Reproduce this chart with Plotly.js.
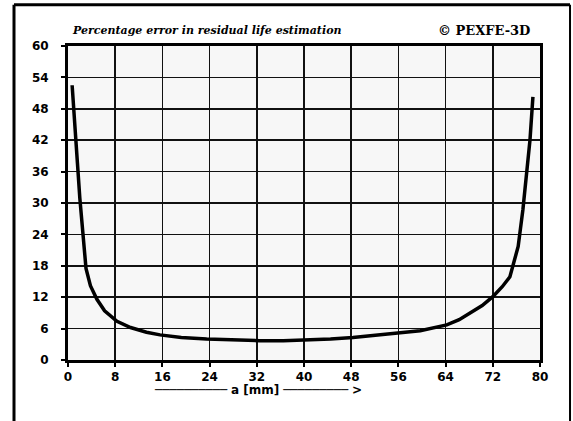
<!DOCTYPE html>
<html>
<head>
<meta charset="utf-8">
<script src="https://cdn.plot.ly/plotly-3.0.1.min.js"></script>
<style>html,body{margin:0;padding:0;background:#fff;}#chart{width:573px;height:421px;}</style>
</head>
<body>
<div id="chart"></div>
<script>
// crack depth a [mm]
var crackDepth = [0.7, 1.1, 1.6, 2.0, 2.5, 3.05, 3.8, 4.9, 6.2, 8.3, 10.6, 13.3, 15.6, 19.2, 23.5, 28, 32.5, 36.5, 41, 44.5, 48.3, 52.5, 56.3, 59.7, 62, 64.2, 66.3, 68.1, 70.2, 72.0, 73.6, 74.9, 75.5, 76.3, 77.1, 77.7, 78.3, 78.8];
// percentage error in residual life estimation
var percentError = [52.5, 45, 37.6, 31, 24.8, 17.5, 14.2, 11.6, 9.4, 7.4, 6.2, 5.3, 4.8, 4.3, 4.0, 3.8, 3.7, 3.7, 3.8, 4.0, 4.3, 4.7, 5.2, 5.6, 6.1, 6.7, 7.7, 9.0, 10.4, 12.1, 14.0, 15.9, 18.5, 21.7, 28.7, 35.7, 42, 50.3];
var xTicks = [0, 8, 16, 24, 32, 40, 48, 56, 64, 72, 80];
var yTicks = [0, 6, 12, 18, 24, 30, 36, 42, 48, 54, 60];
var chartTitle = "Percentage error in residual life estimation";
var programLabel = "\u00A9 PEXFE-3D";
var xLabel = "\u2500\u2500\u2500\u2500\u2500\u2500\u2500\u2500\u2500\u2500 <b>a [mm]</b> \u2500\u2500\u2500\u2500\u2500\u2500\u2500\u2500\u2500 <b>></b>";

var tickFont = {family: "DejaVu Sans", size: 12, color: "#000", weight: "bold"};

var trace = {
  x: crackDepth,
  y: percentError,
  type: "scatter",
  mode: "lines",
  line: {color: "#000", width: 3.5},
  hoverinfo: "skip"
};

var layout = {
  width: 573,
  height: 421,
  margin: {l: 68, r: 33, t: 46, b: 61, pad: 0},
  paper_bgcolor: "#ffffff",
  plot_bgcolor: "#f7f7f7",
  showlegend: false,
  xaxis: {
    range: [0, 80],
    tickvals: xTicks,
    ticktext: xTicks.map(String),
    showgrid: true, gridcolor: "#111", gridwidth: 1.5,
    showline: true, linecolor: "#000", linewidth: 3, mirror: true,
    ticks: "outside", ticklen: 4, tickwidth: 2, tickcolor: "#000",
    tickfont: tickFont,
    zeroline: false
  },
  yaxis: {
    range: [0, 60],
    tickvals: yTicks,
    ticktext: yTicks.map(String),
    showgrid: true, gridcolor: "#111", gridwidth: 1.5,
    showline: true, linecolor: "#000", linewidth: 3, mirror: true,
    ticks: "outside", ticklen: 4, tickwidth: 2, tickcolor: "#000",
    ticklabelstandoff: 10,
    tickfont: tickFont,
    zeroline: false
  },
  annotations: [
    {text: chartTitle, xref: "paper", yref: "paper", x: 0.004, y: 1.048, xanchor: "left", yanchor: "middle", showarrow: false,
     font: {family: "DejaVu Serif", size: 11, color: "#000", weight: "bold", style: "italic"}},
    {text: programLabel, xref: "paper", yref: "paper", x: 0.78, y: 1.048, xanchor: "left", yanchor: "middle", showarrow: false,
     font: {family: "DejaVu Serif", size: 13, color: "#000", weight: "bold"}},
    {text: xLabel, xref: "paper", yref: "paper", x: 0.402, y: -0.095, xanchor: "center", yanchor: "middle", showarrow: false,
     font: {family: "DejaVu Sans", size: 12, color: "#000"}}
  ],
  shapes: [
    {type: "line", xref: "paper", yref: "paper", x0: -0.1144, x1: -0.1144, y0: 1.131, y1: -0.3, line: {color: "#000", width: 3}},
    {type: "line", xref: "paper", yref: "paper", x0: -0.1144, x1: 1.0636, y0: 1.131, y1: 1.131, line: {color: "#000", width: 3}},
    {type: "line", xref: "paper", yref: "paper", x0: 1.0636, x1: 1.0636, y0: 1.131, y1: -0.3, line: {color: "#000", width: 2}}
  ]
};

Plotly.newPlot("chart", [trace], layout, {displayModeBar: false, staticPlot: true});
</script>
</body>
</html>
